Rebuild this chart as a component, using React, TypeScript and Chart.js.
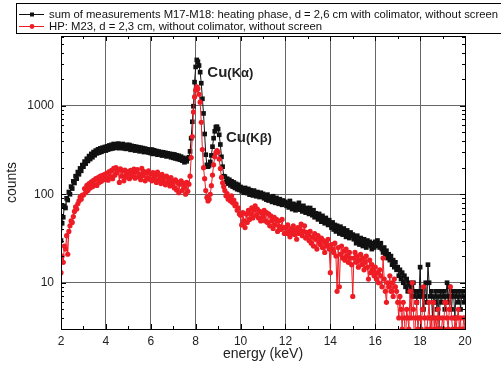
import React, { useEffect, useRef } from 'react';
import { Chart, registerables } from 'chart.js';

Chart.register(...registerables);

// channel calibration of the spectra (keV)
const E_START = 2.0;
const E_STEP = 0.05;

// sum of measurements M17-M18 (black squares), one value per channel, 2.00 ... 20.00 keV
const blackCounts = [
  30, 47, 55, 74, 70, 90, 86, 106, 100, 122, 116, 140, 134, 160, 150, 178, 168, 196, 184, 214,
  205, 234, 222, 252, 238, 270, 250, 286, 262, 300, 276, 312, 290, 322, 296, 330, 302, 336, 310, 342,
  312, 348, 320, 356, 326, 362, 330, 370, 334, 366, 340, 374, 332, 364, 338, 370, 330, 358, 326, 362,
  330, 360, 318, 352, 322, 348, 312, 344, 316, 340, 306, 336, 310, 332, 300, 328, 304, 322, 296, 318,
  292, 320, 286, 314, 290, 308, 280, 304, 284, 300, 274, 298, 278, 294, 268, 290, 272, 286, 262, 284,
  258, 282, 254, 276, 250, 272, 246, 266, 240, 258, 230, 250, 236, 254, 262, 305, 430, 660, 990, 1850,
  2750, 3300, 3150, 2850, 2400, 1800, 1200, 820, 480, 280, 215, 205, 212, 232, 275, 345, 430, 515, 575, 580,
  545, 470, 365, 265, 205, 160, 158, 138, 150, 132, 146, 126, 140, 122, 136, 118, 131, 114, 128, 112,
  121, 108, 116, 104, 118, 110, 103, 115, 99, 111, 106, 97, 110, 101, 95, 106, 99, 93, 104, 96,
  101, 90, 96, 87, 99, 85, 93, 89, 82, 95, 86, 80, 91, 84, 78, 88, 81, 76, 85, 79,
  82, 74, 79, 71, 84, 73, 68, 78, 72, 66, 76, 70, 80, 67, 72, 64, 74, 68, 62, 70,
  66, 60, 70, 63, 58, 66, 55, 61, 57, 52, 60, 54, 49, 57, 51, 47, 54, 49, 45, 51,
  47, 42, 48, 40, 45, 38, 44, 41, 36, 43, 39, 35, 41, 37, 33, 39, 36, 32, 37, 34,
  35, 31, 33, 28, 34, 30, 27, 32, 29, 26, 31, 28, 25, 30, 27, 29, 26, 24, 28, 25,
  29, 26, 30, 27, 25, 28, 24, 22, 25, 21, 23, 19, 21, 18, 20, 16, 18, 15, 17, 14,
  15, 12, 14, 11, 13, 10, 12, 9, 11, 8, 10, 8, 9, 7, 10, 7, 8, 6, 8, 7,
  15, 7, 8, 5, 7, 10, 6, 16, 10, 7, 8, 4, 7, 6, 8, 5, 7, 3, 8, 6,
  7, 8, 5, 7, 10, 6, 9, 7, 5, 8, 7, 4, 8, 7, 6, 8, 5, 7, 8, 6, 7,
];

// HP: M23 (red circles), one value per channel, 2.00 ... 20.00 keV
const redCounts = [
  13, 20, 17, 26, 24, 34, 21, 38, 44, 50, 48, 56, 64, 72, 68, 78, 84, 93, 88, 98,
  98, 116, 104, 126, 110, 132, 118, 138, 122, 144, 128, 150, 126, 154, 136, 160, 140, 164, 146, 168,
  150, 174, 144, 180, 158, 186, 150, 196, 164, 200, 176, 190, 136, 194, 160, 184, 142, 188, 156, 170,
  180, 150, 186, 160, 172, 192, 152, 178, 190, 158, 170, 146, 196, 162, 180, 142, 174, 152, 184, 148,
  170, 142, 176, 150, 164, 136, 178, 144, 160, 132, 168, 140, 156, 128, 160, 136, 150, 124, 154, 130,
  140, 118, 146, 112, 136, 104, 130, 142, 110, 134, 120, 100, 136, 108, 130, 160, 260, 450, 850, 1260,
  1500, 1640, 1560, 1350, 1100, 650, 320, 200, 150, 110, 92, 84, 88, 100, 125, 165, 215, 265, 295, 312,
  300, 250, 195, 155, 135, 122, 110, 96, 102, 88, 92, 84, 96, 80, 86, 74, 78, 66, 70, 60,
  58, 45, 62, 50, 42, 60, 48, 66, 52, 60, 70, 54, 66, 74, 58, 68, 54, 64, 50, 62,
  56, 66, 50, 62, 48, 60, 44, 57, 50, 41, 55, 45, 52, 38, 50, 43, 40, 52, 42, 36,
  42, 36, 45, 38, 33, 41, 37, 44, 35, 39, 31, 42, 36, 40, 46, 34, 38, 44, 32, 37,
  35, 30, 38, 28, 33, 26, 36, 31, 24, 34, 29, 27, 32, 25, 30, 22, 28, 26, 31, 24,
  13, 27, 24, 22, 28, 20, 8, 25, 9, 21, 26, 19, 23, 18, 24, 20, 17, 22, 19, 16,
  7, 19, 22, 17, 20, 15, 18, 21, 16, 19, 14, 17, 20, 15, 11, 18, 13, 16, 14, 12,
  15, 11, 13, 10, 14, 12, 9, 19, 11, 8, 6, 10, 9, 12, 8, 10, 7, 11, 9, 8,
  6, 4, 7, 5, 3, 6, 4, 2, 5, 4, 3, 8, 4, 10, 5, 2, 4, 6, 3, 4,
  4, 3, 5, 9, 4, 2, 3, 4, 6, 3, 4, 2, 6, 3, 4, 3, 5, 4, 2, 3,
  4, 3, 6, 6, 4, 3, 5, 9, 4, 3, 2, 4, 3, 4, 5, 3, 4, 2, 3, 4, 3,
];

const X_MIN = 2;
const X_MAX = 20;
const X_STEP = 2;
const Y_MIN = 3;
const Y_MAX = 6150;
const yTickValues = [10, 100, 1000];

const legendLabels = [
  'sum of measurements M17-M18: heating phase, d = 2,6 cm with colimator, without screen',
  'HP: M23, d = 2,3 cm, without colimator, without screen',
];
// rendered text widths of the legend rows in the reference (px)
const legendWidths = [449, 273];

const peakLabels = [
  { main: 'Cu', sub: '(Kα)', energy: 8.52, count: 2115 },
  { main: 'Cu', sub: '(Kβ)', energy: 9.35, count: 388 },
];

const BLACK = '#111111';
const RED = '#ee1c24';
const FONT = "'Liberation Sans', Arial, Helvetica, sans-serif";

const overlayPlugin = {
  id: 'overlay',
  afterDraw(chart: any) {
    const { ctx, chartArea } = chart;
    const { left, right, top, bottom } = chartArea;
    const xs = chart.scales.x;
    const ys = chart.scales.y;
    const a = (v: number) => Math.round(v) + 0.5;
    ctx.save();
    ctx.strokeStyle = '#000';
    ctx.lineWidth = 1;
    // frame
    ctx.strokeRect(a(left), a(top), Math.round(right) - Math.round(left), Math.round(bottom) - Math.round(top));
    // x ticks
    ctx.beginPath();
    for (let v = X_MIN + 1; v < X_MAX; v += 1) {
      const px = a(xs.getPixelForValue(v));
      const len = v % 2 === 0 ? 5 : 3;
      ctx.moveTo(px, bottom);
      ctx.lineTo(px, bottom - len);
      ctx.moveTo(px, top);
      ctx.lineTo(px, top + len);
    }
    // y ticks
    for (let d = 1; d <= 1000; d *= 10) {
      for (let m = 1; m <= 9; m++) {
        const v = m * d;
        if (v < Y_MIN || v > Y_MAX) continue;
        const py = a(ys.getPixelForValue(v));
        const len = m === 1 ? 5 : 3;
        ctx.moveTo(left, py);
        ctx.lineTo(left + len, py);
        ctx.moveTo(right, py);
        ctx.lineTo(right - len, py);
      }
    }
    ctx.stroke();

    // legend box
    ctx.fillStyle = '#fff';
    ctx.fillRect(16.5, 3.5, 600, 30);
    ctx.strokeStyle = '#000';
    ctx.strokeRect(16.5, 3.5, 600, 30);
    const rows = [
      { y: 14, color: BLACK, shape: 'rect', text: legendLabels[0], w: legendWidths[0] },
      { y: 26, color: RED, shape: 'circle', text: legendLabels[1], w: legendWidths[1] },
    ];
    ctx.font = `11.5px ${FONT}`;
    ctx.textBaseline = 'middle';
    ctx.textAlign = 'left';
    for (const r of rows) {
      ctx.strokeStyle = r.color;
      ctx.fillStyle = r.color;
      ctx.beginPath();
      ctx.moveTo(19, r.y + 0.5);
      ctx.lineTo(44, r.y + 0.5);
      ctx.stroke();
      ctx.beginPath();
      if (r.shape === 'rect') ctx.rect(30, r.y - 1.5, 4, 4);
      else ctx.arc(32, r.y + 0.5, 2.4, 0, Math.PI * 2);
      ctx.fill();
      ctx.fillStyle = '#111';
      const mw = ctx.measureText(r.text).width;
      ctx.save();
      ctx.translate(49, r.y + 0.5);
      ctx.scale(r.w / mw, 1);
      ctx.fillText(r.text, 0, 0);
      ctx.restore();
    }

    // peak annotations
    ctx.textBaseline = 'alphabetic';
    ctx.fillStyle = '#222';
    for (const p of peakLabels) {
      const px = xs.getPixelForValue(p.energy);
      const py = ys.getPixelForValue(p.count);
      ctx.font = `bold 15px ${FONT}`;
      ctx.fillText(p.main, px, py);
      const w = ctx.measureText(p.main).width;
      ctx.font = `bold 13px ${FONT}`;
      ctx.fillText(p.sub, px + w, py);
    }
    ctx.restore();
  },
};

export default function App() {
  const ref = useRef<HTMLCanvasElement | null>(null);

  useEffect(() => {
    if (!ref.current) return;
    Chart.defaults.font.family = FONT;
    const toPoints = (arr: number[]) => arr.map((y, i) => ({ x: E_START + i * E_STEP, y }));
    const chart = new Chart(ref.current, {
      type: 'line',
      data: {
        datasets: [
          {
            label: legendLabels[1],
            data: toPoints(redCounts),
            borderColor: RED,
            backgroundColor: RED,
            borderWidth: 1,
            pointStyle: 'circle',
            pointRadius: 2.6,
            pointBorderWidth: 0,
            pointBackgroundColor: RED,
            tension: 0,
          },
          {
            label: legendLabels[0],
            data: toPoints(blackCounts),
            borderColor: BLACK,
            backgroundColor: BLACK,
            borderWidth: 1,
            pointStyle: 'rect',
            pointRadius: 3.3,
            pointBorderWidth: 0,
            pointBackgroundColor: BLACK,
            tension: 0,
          },
        ],
      },
      options: {
        animation: false,
        responsive: false,
        maintainAspectRatio: false,
        layout: { padding: { left: 0, top: 36, right: 36, bottom: 0 } },
        plugins: { legend: { display: false }, tooltip: { enabled: false } },
        scales: {
          x: {
            type: 'linear',
            min: X_MIN,
            max: X_MAX,
            ticks: {
              stepSize: X_STEP,
              autoSkip: false,
              maxRotation: 0,
              padding: 5,
              color: '#222',
              font: { size: 12, family: FONT },
            },
            grid: {
              color: (c: any) =>
                c.tick && (c.tick.value === X_MIN || c.tick.value === X_MAX) ? 'rgba(0,0,0,0)' : '#666',
              drawTicks: false,
              lineWidth: 1,
            },
            border: { display: true, color: '#000' },
            title: {
              display: true,
              text: 'energy (keV)',
              color: '#222',
              font: { size: 14, family: FONT },
              padding: { top: 0, bottom: 9 },
            },
            afterFit: (s: any) => {
              s.height = 43;
            },
          },
          y: {
            type: 'logarithmic',
            min: Y_MIN,
            max: Y_MAX,
            afterBuildTicks: (s: any) => {
              s.ticks = yTickValues.map((v) => ({ value: v }));
            },
            ticks: {
              callback: (v: any) => String(v),
              padding: 7,
              color: '#222',
              font: { size: 12, family: FONT },
            },
            grid: { color: '#666', drawTicks: false, lineWidth: 1 },
            border: { display: true, color: '#000' },
            title: {
              display: true,
              text: 'counts',
              color: '#222',
              font: { size: 14, family: FONT },
              padding: { top: 4, bottom: 0 },
            },
            afterFit: (s: any) => {
              s.width = 61;
            },
          },
        },
      },
      plugins: [overlayPlugin],
    } as any);
    return () => chart.destroy();
  }, []);

  return (
    <div style={{ position: 'fixed', left: 0, top: 0, width: 501, height: 372, background: '#fff' }}>
      <canvas ref={ref} width={501} height={372} style={{ width: 501, height: 372, display: 'block' }} />
    </div>
  );
}
